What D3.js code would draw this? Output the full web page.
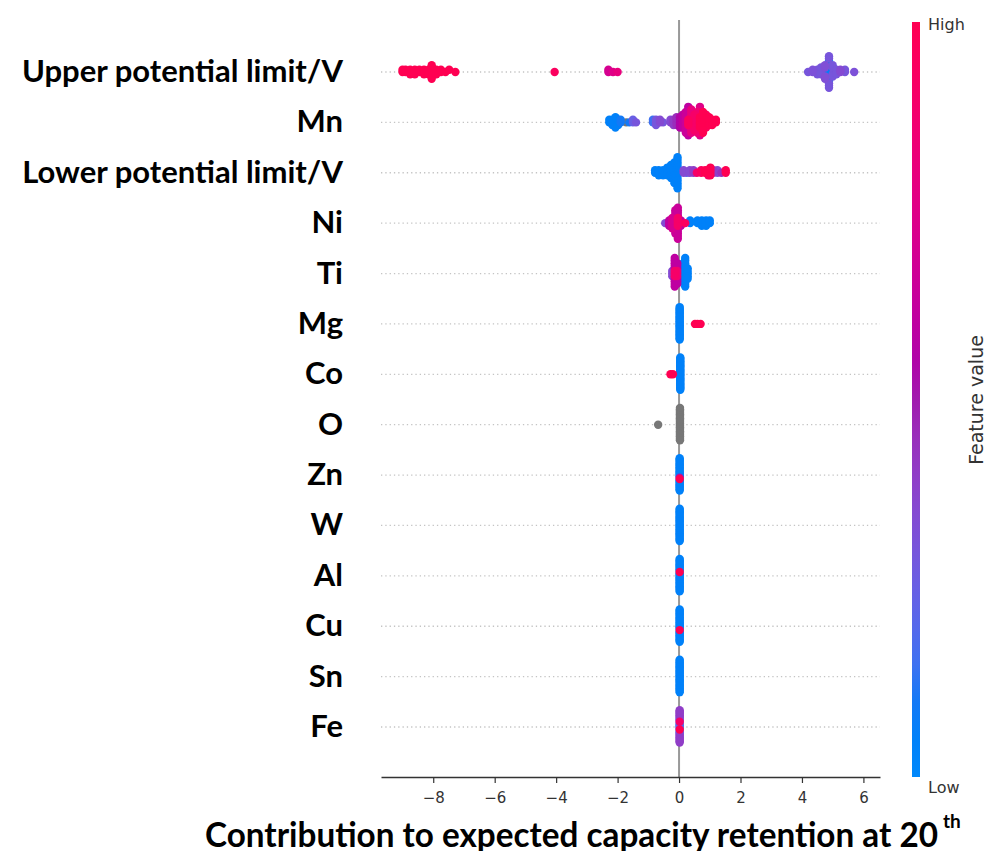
<!DOCTYPE html>
<html>
<head>
<meta charset="utf-8">
<script src="https://cdn.jsdelivr.net/npm/d3@7"></script>
<style>
  body { margin: 0; background: #fff; }
  svg { display: block; }
</style>
</head>
<body>
<script>
const features = ['Upper potential limit/V', 'Mn', 'Lower potential limit/V', 'Ni', 'Ti', 'Mg', 'Co',
  'O', 'Zn', 'W', 'Al', 'Cu', 'Sn', 'Fe'];

// each entry: [shap value, feature value 0..1 (null = grey), number of samples]
const upperLimit = [
  [-9.0, 1, 2], [-8.9, 1, 2], [-8.75, 1, 3], [-8.6, 1, 3], [-8.45, 1, 2], [-8.3, 1, 3], [-8.15, 1, 3],
  [-8.05, 1, 4], [-7.9, 1, 3], [-7.75, 1, 2], [-7.6, 1, 1], [-7.48, 1, 1], [-7.28, 1, 1],
  [-4.05, 0.95, 1],
  [-2.3, 0.7, 2], [-2.15, 0.75, 1], [-2.0, 0.8, 1],
  [4.2, 0.3, 1], [4.35, 0.32, 2], [4.5, 0.3, 3], [4.62, 0.05, 1], [4.62, 0.3, 3], [4.75, 0.05, 3],
  [4.75, 0.33, 4], [4.88, 0.03, 3], [4.88, 0.3, 5], [5.0, 0.08, 2], [5.0, 0.3, 4], [5.12, 0.1, 1],
  [5.12, 0.3, 2], [5.25, 0.35, 2], [5.4, 0.3, 2], [5.7, 0.32, 1]
];
const mn = [
  [-2.27, 0.05, 2], [-2.17, 0.05, 3], [-2.07, 0.05, 5], [-1.98, 0.05, 3], [-1.9, 0.1, 2],
  [-1.72, null, 1],
  [-1.62, 0.1, 1], [-1.5, 0.25, 2], [-1.4, 0.3, 1],
  [-0.85, 0.15, 2], [-0.75, 0.3, 3], [-0.62, 0.35, 2], [-0.52, 0.3, 1],
  [-0.28, 0.35, 2], [-0.18, 0.4, 3], [-0.08, 0.45, 4],
  [0.03, 0.55, 5], [0.12, 0.6, 6], [0.22, 0.65, 9], [0.3, 0.95, 3], [0.3, 0.6, 9], [0.4, 0.8, 10],
  [0.5, 0.9, 7], [0.6, 0.85, 9], [0.68, 1, 5], [0.68, 0.75, 7], [0.78, 1, 9], [0.88, 0.95, 6],
  [0.98, 1, 4], [1.08, 1, 3], [1.2, 1, 2]
];
const lowerLimit = [
  [-0.78, 0.05, 2], [-0.66, 0.05, 3], [-0.52, 0.05, 3], [-0.38, 0.05, 4], [-0.26, 0.05, 6],
  [-0.15, 0.05, 9], [-0.05, 0.05, 13],
  [0.15, 0.35, 2], [0.25, 0.2, 1], [0.35, 0.35, 2], [0.47, 0.4, 2], [0.58, 0.9, 1], [0.72, 0.95, 2],
  [0.85, 1, 2], [0.95, 0.9, 3], [1.02, 1, 4], [1.12, 0.4, 2], [1.25, 0.35, 2], [1.38, 0.45, 1], [1.52, 1, 2]
];
const ni = [
  [-0.45, 0.35, 1], [-0.32, 0.6, 3], [-0.22, 0.7, 5], [-0.12, 0.65, 10], [-0.04, 0.9, 4], [-0.04, 0.65, 9],
  [0.06, 0.6, 3], [0.2, 0.95, 1], [0.36, 0.05, 2], [0.6, 0.05, 2], [0.74, 0.05, 3], [0.88, 0.05, 3], [1.0, 0.05, 2]
];
const ti = [
  [-0.22, 0.35, 3], [-0.14, 0.9, 3], [-0.14, 0.6, 9], [-0.06, 0.85, 3], [-0.06, 0.6, 6],
  [0.14, 0.05, 8], [0.2, 0.05, 12], [0.28, 0.05, 5]
];
const mg = [[0.02, 0.05, 26], [0.52, 1, 1], [0.6, 1, 1], [0.7, 1, 1]];
const co = [[-0.28, 1, 1], [-0.2, 1, 1], [0.04, 0.05, 26]];
const o = [[-0.68, null, 1], [0.03, null, 26]];
const zn = [[0.02, 0.05, 4], [0.02, 0.5, 1], [0.02, 0.05, 1], [0.02, 1, 1], [0.02, 0.05, 19]];
const w = [[0.02, 0.05, 26]];
const al = [[0.02, 0.05, 5], [0.02, 1, 1], [0.02, 0.05, 20]];
const cu = [[0.02, 0.05, 6], [0.02, 1, 1], [0.02, 0.05, 19]];
const sn = [[0.02, 0.05, 26]];
const fe = [[0.02, 0.2, 4], [0.02, 1, 1], [0.02, 0.15, 2], [0.02, 0.9, 1], [0.02, 0.3, 6], [0.02, 0.4, 12]];

const rowData = [upperLimit, mn, lowerLimit, ni, ti, mg, co, o, zn, w, al, cu, sn, fe];

const xTicks = [-8, -6, -4, -2, 0, 2, 4, 6];
const xTitle = 'Contribution to expected capacity retention at 20';
const xTitleSup = 'th';
const cbarTitle = 'Feature value';
const cbarHigh = 'High';
const cbarLow = 'Low';

const width = 988;
const height = 851;

// shap red_blue colormap: linear in Lch, lightness dipping in the middle
const shapColor = (t) => {
  if (t == null) return '#777777';
  const l = 54 - 14 * (1 - Math.abs(2 * t - 1));
  return d3.hcl(266.9 + 113.4 * t, 70 + 20 * t, l).formatHex();
};

const svg = d3.select('body').append('svg')
  .attr('width', width)
  .attr('height', height);

const x = d3.scaleLinear().domain([-9.7, 6.54]).range([381, 880]);
const y = d3.scalePoint().domain(features).range([72, 727]);

// grid lines per feature
svg.append('g')
  .selectAll('line')
  .data(features)
  .join('line')
  .attr('x1', 381)
  .attr('x2', 880)
  .attr('y1', (d) => y(d))
  .attr('y2', (d) => y(d))
  .attr('stroke', '#c4c4c4')
  .attr('stroke-width', 1.3)
  .attr('stroke-dasharray', '1.3,3');

svg.append('line')
  .attr('x1', x(0))
  .attr('x2', x(0))
  .attr('y1', 20)
  .attr('y2', 777)
  .attr('stroke', '#999')
  .attr('stroke-width', 2);

// beeswarm layout like shap: bin values, stack points alternating up/down
const swarm = (groups) => {
  const pts = [];
  groups.forEach(([v, fv, n]) => {
    for (let k = 0; k < n; k++) pts.push({ v, fv });
  });
  const lo = d3.min(pts, (p) => p.v);
  const hi = d3.max(pts, (p) => p.v);
  pts.forEach((p) => { p.bin = Math.round(100 * (p.v - lo) / (hi - lo + 1e-8)); });
  const order = d3.range(pts.length).sort((a, b) => pts[a].bin - pts[b].bin || a - b);
  let layer = 0;
  let last = -1;
  order.forEach((i) => {
    const p = pts[i];
    if (p.bin !== last) layer = 0;
    p.ys = Math.ceil(layer / 2) * ((layer % 2) * 2 - 1);
    layer++;
    last = p.bin;
  });
  const m = d3.max(pts, (p) => p.ys + 1);
  pts.forEach((p) => { p.ys *= 0.9 * 0.4 / m; });
  return pts;
};

const dotsG = svg.append('g');
features.forEach((f, i) => {
  const pts = swarm(rowData[i])
    .sort((a, b) => (a.fv == null ? -1 : a.fv) - (b.fv == null ? -1 : b.fv));
  dotsG.append('g')
    .selectAll('circle')
    .data(pts)
    .join('circle')
    .attr('cx', (d) => x(d.v))
    .attr('cy', (d) => y(f) - d.ys * y.step())
    .attr('r', 4.2)
    .attr('fill', (d) => shapColor(d.fv));
});

// x axis
const axis = svg.append('g')
  .attr('transform', 'translate(0,777)')
  .call(d3.axisBottom(x).tickValues(xTicks).tickSize(6).tickSizeOuter(0).tickPadding(9));
axis.select('.domain').attr('stroke', '#333').attr('stroke-width', 1.4);
axis.selectAll('.tick line').attr('stroke', '#333').attr('stroke-width', 1.2);
axis.selectAll('.tick text')
  .attr('fill', '#333')
  .style('font-family', 'DejaVu Sans')
  .style('font-size', '15px');

// feature labels
svg.append('g')
  .selectAll('text')
  .data(features)
  .join('text')
  .attr('x', 343)
  .attr('y', (d) => y(d) + 10)
  .attr('text-anchor', 'end')
  .style('font-family', 'Lato')
  .style('font-weight', 'bold')
  .style('font-size', '31px')
  .attr('fill', '#000')
  .text((d) => d);

// axis title
svg.append('text')
  .attr('x', 205)
  .attr('y', 847)
  .attr('textLength', 733)
  .attr('lengthAdjust', 'spacingAndGlyphs')
  .style('font-family', 'Lato')
  .style('font-weight', 'bold')
  .style('font-size', '34px')
  .attr('fill', '#000')
  .text(xTitle);
svg.append('text')
  .attr('x', 943)
  .attr('y', 828)
  .style('font-family', 'Lato')
  .style('font-weight', 'bold')
  .style('font-size', '19px')
  .attr('fill', '#000')
  .text(xTitleSup);

// colour bar
const grad = svg.append('defs').append('linearGradient')
  .attr('id', 'cbar')
  .attr('x1', 0).attr('x2', 0).attr('y1', 0).attr('y2', 1);
grad.selectAll('stop')
  .data(d3.range(0, 1.0001, 0.05))
  .join('stop')
  .attr('offset', (d) => d)
  .attr('stop-color', (d) => shapColor(1 - d));

svg.append('rect')
  .attr('x', 912)
  .attr('y', 22)
  .attr('width', 8)
  .attr('height', 755)
  .attr('fill', 'url(#cbar)');

const cbarText = (s, yy) => svg.append('text')
  .attr('x', 928)
  .attr('y', yy)
  .style('font-family', 'DejaVu Sans')
  .style('font-size', '16px')
  .attr('fill', '#333')
  .text(s);
cbarText(cbarHigh, 30);
cbarText(cbarLow, 793);

svg.append('text')
  .attr('transform', 'translate(983,400) rotate(-90)')
  .attr('text-anchor', 'middle')
  .style('font-family', 'DejaVu Sans')
  .style('font-size', '19px')
  .attr('fill', '#333')
  .text(cbarTitle);
</script>
</body>
</html>
